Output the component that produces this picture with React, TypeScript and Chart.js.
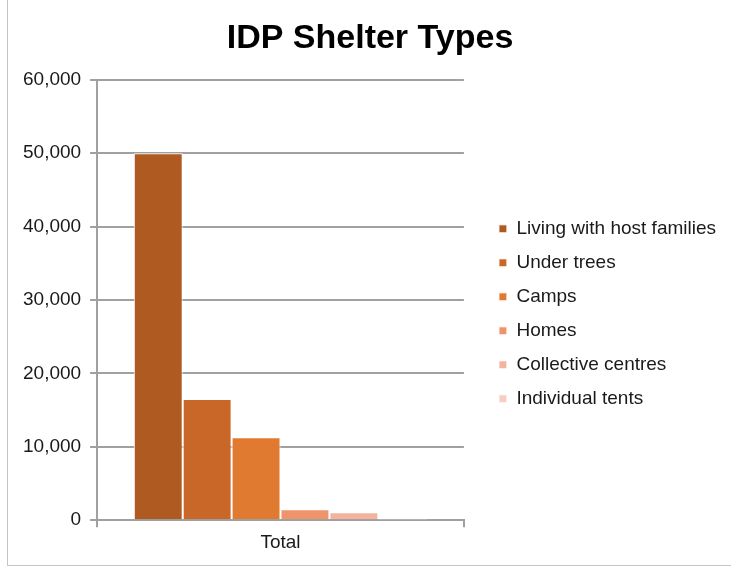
import React, { useEffect, useRef } from "react";
import { Chart, registerables } from "chart.js";

Chart.register(...registerables);

const categories = ["Total"];
const seriesNames = [
  "Living with host families",
  "Under trees",
  "Camps",
  "Homes",
  "Collective centres",
  "Individual tents",
];
const seriesValues = [50000, 16500, 11300, 1500, 1100, 50];
const seriesColors = ["#ae5a21", "#c86728", "#e07a30", "#ee936a", "#f3b39e", "#f6cdbf"];
const yTicks = [0, 10000, 20000, 30000, 40000, 50000, 60000];

const FONT = "'Liberation Sans', Arial, Helvetica, sans-serif";
const GRID = "#a0a0a0";

export default function App() {
  const ref = useRef<HTMLCanvasElement | null>(null);

  useEffect(() => {
    document.body.style.margin = "0";
    const canvas = ref.current;
    if (!canvas) return;
    const chart = new Chart(canvas, {
      type: "bar",
      data: {
        labels: categories,
        datasets: seriesNames.map((name, i) => ({
          label: name,
          data: [seriesValues[i]],
          backgroundColor: seriesColors[i],
          borderColor: "#ffffff",
          borderWidth: 1,
          barPercentage: 1,
          categoryPercentage: 0.8,
        })),
      },
      options: {
        responsive: false,
        animation: false,
        layout: { padding: { left: 14, right: 5, top: 0, bottom: 27 } },
        plugins: {
          title: {
            display: true,
            text: "IDP Shelter Types",
            color: "#000",
            font: { family: FONT, size: 34, weight: "bold" },
            padding: { top: 18, bottom: 21 },
          },
          legend: {
            display: true,
            position: "right",
            align: "center",
            maxWidth: 320,
            title: {
              display: true,
              text: " ",
              font: { family: FONT, size: 18 },
              padding: { top: 0, bottom: 48 },
            },
            labels: {
              boxWidth: 8,
              boxHeight: 8,
              padding: 15,
              color: "#1a1a1a",
              font: { family: FONT, size: 19 },
            },
          },
          tooltip: { enabled: false },
        },
        scales: {
          x: {
            grid: {
              display: true,
              drawOnChartArea: false,
              offset: true,
              tickLength: 7,
              color: GRID,
              lineWidth: 2,
            },
            border: { display: true, color: GRID, width: 2 },
            ticks: { color: "#1a1a1a", padding: 4, font: { family: FONT, size: 19 } },
          },
          y: {
            min: 0,
            max: 60000,
            afterBuildTicks: (axis: any) => {
              axis.ticks = yTicks.map((v) => ({ value: v }));
            },
            grid: { color: GRID, lineWidth: 2, tickLength: 7 },
            border: { display: true, color: GRID, width: 2 },
            ticks: {
              color: "#1a1a1a",
              padding: 9,
              font: { family: FONT, size: 19 },
              callback: (v: any) => Number(v).toLocaleString("en-US"),
            },
          },
          gap: {
            type: "linear",
            position: "right",
            display: true,
            grid: { display: false, drawTicks: false },
            border: { display: false },
            ticks: { display: false },
            afterFit: (axis: any) => {
              axis.width = 20;
            },
          },
        },
      },
    });
    return () => chart.destroy();
  }, []);

  return (
    <div style={{ position: "relative", width: 731, height: 585, background: "#fff", overflow: "hidden" }}>
      <div
        style={{
          position: "absolute",
          left: 7,
          top: -1,
          width: 724,
          height: 567,
          borderLeft: "1px solid #c4c4c4",
          borderBottom: "1px solid #c4c4c4",
          boxSizing: "border-box",
        }}
      />
      <canvas ref={ref} width={731} height={585} style={{ position: "absolute", left: 0, top: 0, display: "block" }} />
    </div>
  );
}
